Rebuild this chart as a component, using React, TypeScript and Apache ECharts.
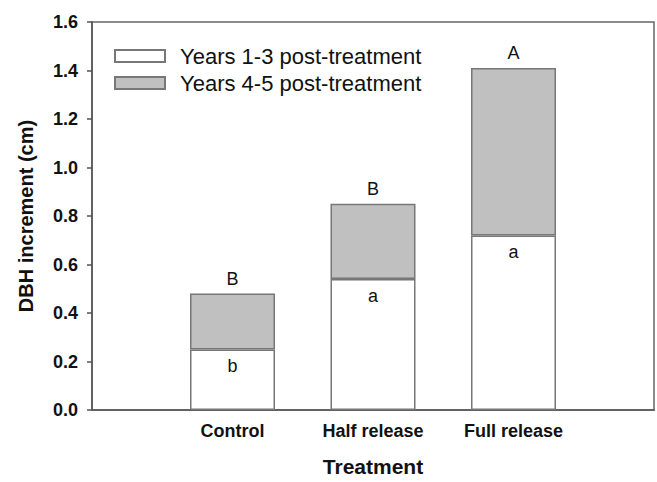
import React, { useEffect, useRef } from "react";
import * as echarts from "echarts";

const categories = ["", "Control", "Half release", "Full release", ""];
const years13 = [null, 0.25, 0.54, 0.72, null];
const years45 = [null, 0.23, 0.31, 0.69, null];
const lowerLetters = ["", "b", "a", "a", ""];
const upperLetters = ["", "B", "B", "A", ""];
const seriesNames = ["Years 1-3 post-treatment", "Years 4-5 post-treatment"];
const yTicks = { min: 0, max: 1.6, interval: 0.2 };

const FONT = "'Liberation Sans', Arial, Helvetica, sans-serif";

export default function App() {
  const ref = useRef<HTMLDivElement>(null);
  useEffect(() => {
    if (!ref.current) return;
    const chart = echarts.init(ref.current, undefined, { renderer: "svg" });
    chart.setOption({
      animation: false,
      backgroundColor: "#ffffff",
      textStyle: { fontFamily: FONT },
      grid: {
        left: 92,
        right: 2,
        top: 22,
        bottom: 66,
        show: true,
        borderColor: "#666",
        borderWidth: 1.5,
        backgroundColor: "transparent",
      },
      legend: {
        orient: "vertical",
        left: 109,
        top: 40,
        itemWidth: 50,
        itemHeight: 12,
        itemGap: 5,
        icon: "rect",
        selectedMode: false,
        data: seriesNames,
        textStyle: {
          fontFamily: FONT,
          fontSize: 22,
          color: "#111",
          padding: [0, 0, 0, 10],
        },
      },
      xAxis: {
        type: "category",
        data: categories,
        boundaryGap: false,
        name: "Treatment",
        nameLocation: "middle",
        nameGap: 46,
        nameTextStyle: { fontFamily: FONT, fontSize: 21, fontWeight: "bold", color: "#111" },
        axisLine: { lineStyle: { color: "#555", width: 1.5 } },
        axisTick: { show: false },
        axisLabel: {
          fontFamily: FONT,
          fontSize: 18,
          fontWeight: "bold",
          color: "#111",
          margin: 12,
          interval: 0,
        },
        splitLine: { show: false },
      },
      yAxis: {
        type: "value",
        min: yTicks.min,
        max: yTicks.max,
        interval: yTicks.interval,
        name: "DBH increment (cm)",
        nameLocation: "middle",
        nameGap: 56,
        nameTextStyle: { fontFamily: FONT, fontSize: 20, fontWeight: "bold", color: "#111" },
        axisLine: { show: true, lineStyle: { color: "#555", width: 1.5 } },
        axisTick: { show: true, length: 5, inside: false, lineStyle: { color: "#555", width: 1.5 } },
        axisLabel: {
          fontFamily: FONT,
          fontSize: 18,
          fontWeight: "bold",
          color: "#111",
          margin: 14,
          formatter: (v: number) => v.toFixed(1),
        },
        splitLine: { show: false },
      },
      series: [
        {
          name: seriesNames[0],
          type: "bar",
          stack: "total",
          data: years13,
          barWidth: 85,
          itemStyle: { color: "#ffffff", borderColor: "#777", borderWidth: 1.5 },
          label: {
            show: true,
            position: "insideTop",
            distance: 8,
            fontFamily: FONT,
            fontSize: 18,
            color: "#111",
            formatter: (p: any) => lowerLetters[p.dataIndex],
          },
        },
        {
          name: seriesNames[1],
          type: "bar",
          stack: "total",
          data: years45,
          barWidth: 85,
          itemStyle: { color: "#c0c0c0", borderColor: "#777", borderWidth: 1.5 },
          label: {
            show: true,
            position: "top",
            distance: 6,
            fontFamily: FONT,
            fontSize: 18,
            color: "#111",
            formatter: (p: any) => upperLetters[p.dataIndex],
          },
        },
      ],
    });
    return () => chart.dispose();
  }, []);
  return (
    <div
      ref={ref}
      style={{ position: "fixed", left: 0, top: 0, width: 657, height: 482 }}
    />
  );
}
